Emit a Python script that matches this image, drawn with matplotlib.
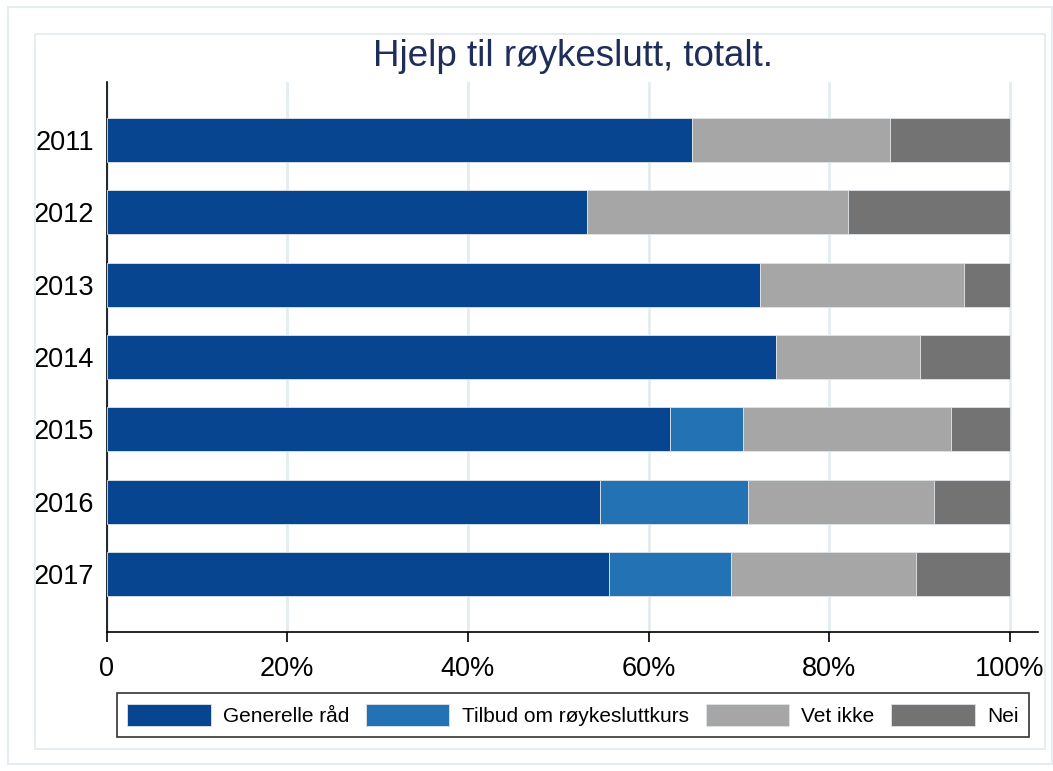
import numpy as np
import matplotlib.pyplot as plt
from matplotlib.patches import Rectangle

plt.rcParams['font.family'] = ['Liberation Sans', 'DejaVu Sans']

# data (prosent)
years = ['2011', '2012', '2013', '2014', '2015', '2016', '2017']
generelle = [64.8, 53.2, 72.3, 74.1, 62.4, 54.6, 55.6]
tilbud = [0.0, 0.0, 0.0, 0.0, 8.1, 16.4, 13.5]
vet_ikke = [21.9, 28.9, 22.6, 15.9, 23.0, 20.6, 20.5]
nei = [13.3, 17.9, 5.1, 10.0, 6.5, 8.4, 10.4]

series = [
    ('Generelle råd', generelle, '#084591'),
    ('Tilbud om røykesluttkurs', tilbud, '#2272b4'),
    ('Vet ikke', vet_ikke, '#a6a6a6'),
    ('Nei', nei, '#737373'),
]

fig = plt.figure(figsize=(10.53, 7.71), dpi=100)

# ramme rundt figuren
fig.patches.append(Rectangle((8 / 1053, 7 / 771), 1044 / 1053, 757 / 771,
                             transform=fig.transFigure, fill=False,
                             edgecolor='#e6ecef', linewidth=1.5))
fig.patches.append(Rectangle((35 / 1053, 22 / 771), 1010 / 1053, 715 / 771,
                             transform=fig.transFigure, fill=False,
                             edgecolor='#e6ecef', linewidth=1.5))

ax = fig.add_axes([106.5 / 1053, (771 - 632) / 771, 931.5 / 1053, 550 / 771])

y = np.arange(len(years))
left = np.zeros(len(years))
for name, vals, col in series:
    vals = np.array(vals)
    ax.barh(y, vals, left=left, height=0.61, color=col, label=name,
            edgecolor='#dfe4e8', linewidth=0.6, zorder=3)
    left += vals

ax.set_ylim(6.8, -0.8)
ax.set_xlim(0, 103.1)
ax.set_yticks(y)
ax.set_yticklabels(years)
ax.set_xticks([0, 20, 40, 60, 80, 100])
ax.set_xticklabels(['0', '20%', '40%', '60%', '80%', '100%'])
ax.tick_params(axis='y', length=0, pad=9, labelsize=19.5)
ax.tick_params(axis='x', length=7, width=1.2, pad=10, labelsize=19.5)
ax.grid(axis='x', color='#e3edf0', linewidth=2, zorder=0)
for s in ['top', 'right']:
    ax.spines[s].set_visible(False)
ax.spines['left'].set_linewidth(1.2)
ax.spines['bottom'].set_linewidth(1.2)

fig.text(573 / 1053, 1 - 57 / 771, 'Hjelp til røykeslutt, totalt.',
         ha='center', va='center', fontsize=26.5, color='#1e2d5a')

leg = fig.legend(loc='center', bbox_to_anchor=(573 / 1053, 1 - 715 / 771),
                 ncol=4, fontsize=15, handlelength=4.0, handleheight=1.3,
                 handletextpad=0.6, columnspacing=0.8, fancybox=False,
                 edgecolor='black', borderpad=0.5)
leg.get_frame().set_linewidth(1.2)

plt.savefig('out.png', dpi=100)
